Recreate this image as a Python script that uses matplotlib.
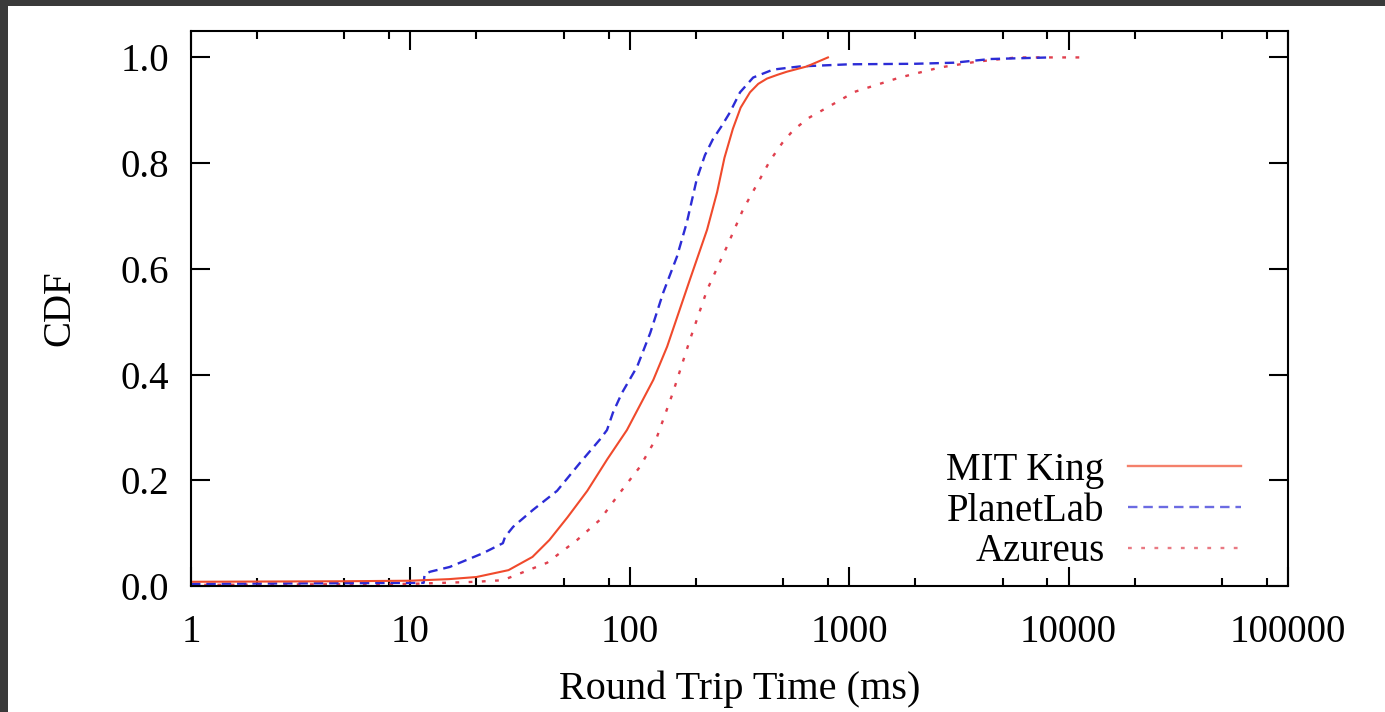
import matplotlib
matplotlib.use("Agg")
import matplotlib.pyplot as plt
from matplotlib.patches import Rectangle
from matplotlib.lines import Line2D
import numpy as np

plt.rcParams["font.family"] = ["Liberation Serif", "DejaVu Serif"]
plt.rcParams["font.size"] = 28

# CDF of round trip times (ms) for the three latency data sets
mit_rtt = [1, 5, 10, 15, 20, 28, 36, 43, 52, 64, 79, 97, 128, 148, 188, 225,
           250, 270, 295, 320, 353, 385, 422, 470, 520, 642, 800]
mit_cdf = [0.008, 0.009, 0.010, 0.013, 0.017, 0.030, 0.055, 0.087, 0.13, 0.18,
           0.24, 0.295, 0.39, 0.453, 0.58, 0.674, 0.745, 0.81, 0.865, 0.905,
           0.934, 0.950, 0.960, 0.967, 0.973, 0.983, 1.0]

planet_rtt = [1, 11.5, 11.6, 12.3, 15.1, 21.4, 26.4, 27, 29.4, 36.2, 46.6,
              59.3, 73, 78.7, 83.8, 92, 108, 124, 142, 164, 182, 202, 220, 239,
              262, 286, 318, 365, 450, 597, 1000, 2000, 3000, 4400, 8200]
planet_cdf = [0.004, 0.006, 0.022, 0.027, 0.036, 0.062, 0.081, 0.093, 0.112,
              0.144, 0.18, 0.233, 0.277, 0.295, 0.328, 0.365, 0.415, 0.479,
              0.555, 0.623, 0.688, 0.77, 0.815, 0.845, 0.87, 0.896, 0.934, 0.962,
              0.977, 0.983, 0.987, 0.988, 0.99, 0.997, 1.0]

azureus_rtt = [1, 10, 20, 26.4, 42, 57.5, 73, 90, 111, 133, 157, 188, 225, 277,
               328, 392, 436, 495, 555, 650, 792, 1060, 1700, 2590, 3820, 5800,
               12100]
azureus_cdf = [0.002, 0.004, 0.008, 0.011, 0.044, 0.087, 0.125, 0.176, 0.225,
               0.282, 0.365, 0.466, 0.56, 0.642, 0.712, 0.77, 0.805, 0.838, 0.862,
               0.885, 0.905, 0.935, 0.962, 0.981, 0.992, 1.0, 1.0]

labels = ["MIT King", "PlanetLab", "Azureus"]
colors = ["#f04a2c", "#2c2cd6", "#e0404e"]
styles = ["-", (0, (4, 2.5)), (0, (1.6, 4))]

fig = plt.figure(figsize=(13.85, 7.12), dpi=100, facecolor="#3a3a3a")
fig.patches.append(Rectangle((8 / 1385, 0), 1, 1 - 6 / 712, transform=fig.transFigure,
                             facecolor="white", edgecolor="none", zorder=-10))

ax = fig.add_axes([191 / 1385, 126 / 712, (1288 - 191) / 1385, (586 - 31) / 712])
ax.set_facecolor("white")

ax.plot(azureus_rtt, azureus_cdf, color=colors[2], ls=styles[2], lw=1.7)
ax.plot(planet_rtt, planet_cdf, color=colors[1], ls=styles[1], lw=1.7)
ax.plot(mit_rtt, mit_cdf, color=colors[0], ls=styles[0], lw=1.5)

ax.set_xscale("log")
ax.set_xlim(1, 1e5)
ax.set_ylim(0, 1.05)

ax.set_xticks([1, 10, 100, 1000, 10000, 100000])
ax.set_xticklabels(["1", "10", "100", "1000", "10000", "100000"])
minor = [m * 10.0 ** k for k in range(5) for m in (2, 5, 8)]
ax.set_xticks(minor, minor=True)
ax.set_xticklabels([], minor=True)
ax.set_yticks([0, 0.2, 0.4, 0.6, 0.8, 1.0])
ax.set_yticklabels(["0.0", "0.2", "0.4", "0.6", "0.8", "1.0"])

ax.tick_params(which="both", direction="in", top=True, right=True, width=1.5)
ax.tick_params(which="major", length=14)
ax.tick_params(which="minor", length=6)
ax.tick_params(axis="x", pad=20)
ax.tick_params(axis="y", pad=16)
for sp in ax.spines.values():
    sp.set_linewidth(1.5)

ax.set_xlabel("Round Trip Time (ms)", labelpad=14, fontsize=29)
ax.set_ylabel("CDF", labelpad=30)

handles = [Line2D([], [], color=c, ls=s, lw=1.7, alpha=0.7) for c, s in zip(colors, styles)]
ax.legend(handles, labels, loc="lower right", markerfirst=False, frameon=False,
          handlelength=2.9, handletextpad=0.6, labelspacing=0.1,
          borderaxespad=0.0, bbox_to_anchor=(0.971, 0.0))

fig.savefig("out.png", dpi=100, facecolor=fig.get_facecolor())
